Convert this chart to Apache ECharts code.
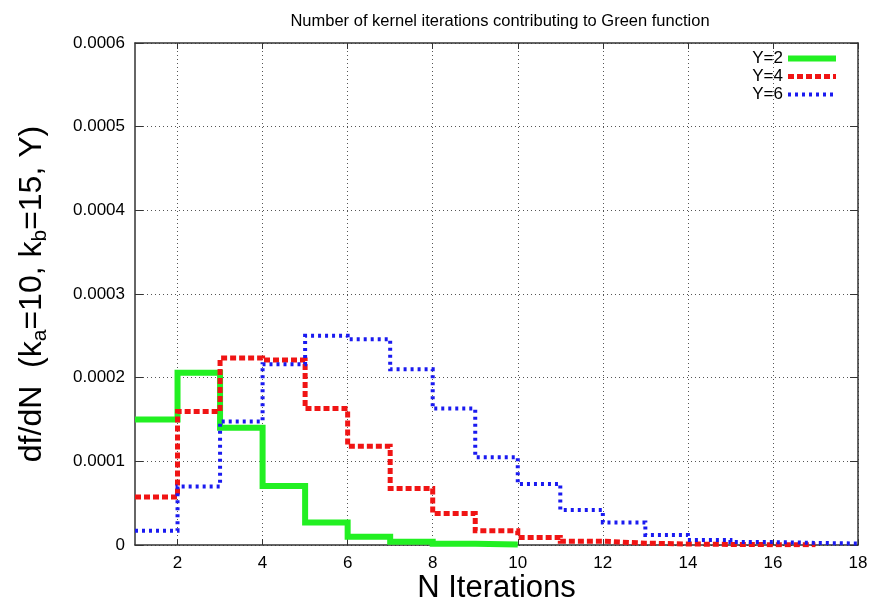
<!DOCTYPE html>
<html>
<head>
<meta charset="utf-8">
<script src="https://cdn.jsdelivr.net/npm/echarts@6/dist/echarts.min.js"></script>
<style>
  html, body { margin: 0; padding: 0; background: #fff; }
  #chart { width: 890px; height: 605px; }
</style>
</head>
<body>
<div id="chart"></div>
<script>
// Histogram bins: each value covers [start + i, start + i + 1)
const binStart = 1;
const valuesY2 = [1.50e-4, 2.06e-4, 1.40e-4, 0.706e-4, 0.27e-4, 0.10e-4, 0.04e-4, 0.015e-4, 0.005e-4];
const valuesY4 = [0.575e-4, 1.595e-4, 2.235e-4, 2.21e-4, 1.63e-4, 1.18e-4, 0.675e-4, 0.377e-4,
                  0.17e-4, 0.09e-4, 0.045e-4, 0.022e-4, 0.012e-4, 0.007e-4, 0.004e-4, 0.002e-4];
const valuesY6 = [0.17e-4, 0.70e-4, 1.476e-4, 2.16e-4, 2.50e-4, 2.46e-4, 2.10e-4, 1.63e-4,
                  1.05e-4, 0.73e-4, 0.417e-4, 0.27e-4, 0.12e-4, 0.06e-4, 0.035e-4, 0.025e-4, 0.018e-4];
const seriesNames = ['Y=2', 'Y=4', 'Y=6'];
const xTicks = [2, 4, 6, 8, 10, 12, 14, 16, 18];
const yTicks = [0, 0.0001, 0.0002, 0.0003, 0.0004, 0.0005, 0.0006];

// Turn bin values into step-line points (horizontal first, then jump)
function stepPoints(vals) {
  const pts = vals.map((v, i) => [binStart + i, v]);
  pts.push([binStart + vals.length, vals[vals.length - 1]]);
  return pts;
}

const font = '"Liberation Sans", Arial, Helvetica, sans-serif';
const frame = { show: true, onZero: false, lineStyle: { color: '#333', width: 1.5 } };
const grid = { type: [1, 3], color: '#555', width: 1 };

const styles = [
  { color: '#22f022', width: 6, type: 'solid' },
  { color: '#f01414', width: 5, type: [6, 3] },
  { color: '#1a1af0', width: 4, type: [3, 4] }
];

const chart = echarts.init(document.getElementById('chart'), null, { renderer: 'canvas' });
chart.setOption({
  backgroundColor: '#fff',
  animation: false,
  textStyle: { fontFamily: font },
  title: {
    text: 'Number of kernel iterations contributing to Green function',
    left: 495, top: 8, textAlign: 'center',
    textStyle: { fontSize: 16.5, fontWeight: 'normal', color: '#000', fontFamily: font }
  },
  grid: { left: 135, right: 32, top: 43, bottom: 60, outerBoundsMode: 'none', containLabel: false },
  legend: {
    orient: 'vertical', right: 51, top: 50, align: 'right',
    itemWidth: 48, itemHeight: 12, itemGap: 1,
    padding: 0,
    itemStyle: { opacity: 0 },
    textStyle: { fontSize: 17, color: '#000', fontFamily: font },
    data: seriesNames.map((name, i) => ({
      name,
      lineStyle: { color: styles[i].color, width: styles[i].width, type: styles[i].type, cap: 'butt' }
    }))
  },
  xAxis: [{
    type: 'value', min: 1, max: 18, position: 'bottom',
    name: 'N Iterations', nameLocation: 'middle', nameGap: 28, nameMoveOverlap: false,
    nameTextStyle: { fontSize: 31, color: '#000', fontFamily: font },
    axisLine: frame,
    axisTick: { show: true, inside: true, length: 6, customValues: xTicks, lineStyle: { color: '#333', width: 1 } },
    axisLabel: { customValues: xTicks, fontSize: 17, color: '#000', margin: 10, fontFamily: font },
    splitLine: { show: true, lineStyle: grid }
  }, {
    type: 'value', min: 1, max: 18, position: 'top',
    axisLine: frame,
    axisTick: { show: true, inside: true, length: 6, customValues: xTicks, lineStyle: { color: '#333', width: 1 } },
    axisLabel: { show: false },
    splitLine: { show: false }
  }],
  yAxis: [{
    type: 'value', min: 0, max: 0.0006, interval: 0.0001, position: 'left',
    name: '{a|df/dN  (k}{s|a}{a|=10, k}{s|b}{a|=15, Y)}',
    nameLocation: 'middle', nameGap: 84,
    nameTextStyle: {
      color: '#000', fontFamily: font,
      rich: {
        a: { fontSize: 32, color: '#000', fontFamily: font },
        s: { fontSize: 21, color: '#000', fontFamily: font, padding: [16, 0, 0, 0] }
      }
    },
    axisLine: frame,
    axisTick: { show: true, inside: true, length: 8, lineStyle: { color: '#333', width: 1 } },
    axisLabel: {
      customValues: yTicks, fontSize: 17, color: '#000', margin: 10, fontFamily: font,
      formatter: v => (v === 0 ? '0' : v.toFixed(4))
    },
    splitLine: { show: true, lineStyle: grid }
  }, {
    type: 'value', min: 0, max: 0.0006, interval: 0.0001, position: 'right',
    axisLine: frame,
    axisTick: { show: true, inside: true, length: 8, lineStyle: { color: '#333', width: 1 } },
    axisLabel: { show: false },
    splitLine: { show: false }
  }],
  series: [valuesY2, valuesY4, valuesY6].map((vals, i) => ({
    name: seriesNames[i], type: 'line', step: 'end', symbol: 'none',
    xAxisIndex: 0, yAxisIndex: 0, z: 3 + i,
    data: stepPoints(vals),
    itemStyle: { color: styles[i].color },
    lineStyle: { color: styles[i].color, width: styles[i].width, type: styles[i].type, cap: 'butt', join: 'miter' }
  }))
});
</script>
</body>
</html>
